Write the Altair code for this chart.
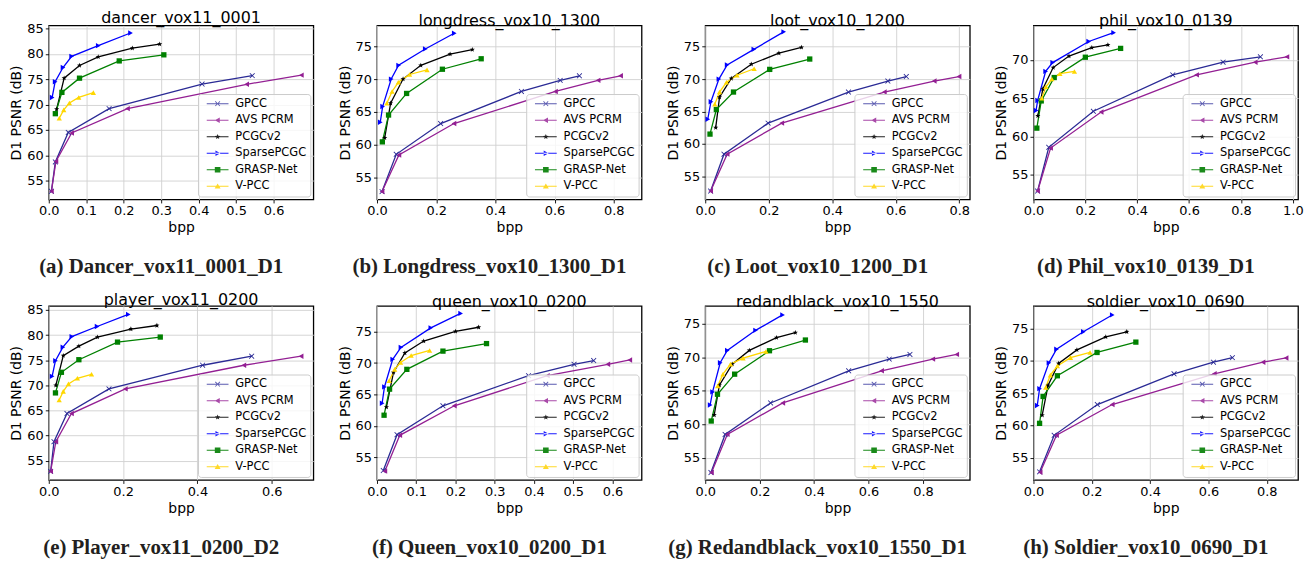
import math
import altair as alt
import pandas as pd

METHODS = ["GPCC", "AVS PCRM", "PCGCv2", "SparsePCGC", "GRASP-Net", "V-PCC"]
COLORS = ["#2a2a95", "#931f93", "#000000", "#0000ff", "#008000", "#ffd700"]
LEGEND_COLORS = ["#5a5ab0", "#a94aa9", "#222222", "#1a1aff", "#1a8a1a", "#ffd92a"]

# (bpp list, PSNR list) per method
DANCER = {
    "GPCC": ([0.007, 0.0175, 0.052, 0.161, 0.409, 0.543], [52.9, 58.7, 64.5, 69.2, 74.05, 75.7]),
    "AVS PCRM": ([0.007, 0.019, 0.061, 0.21, 0.528, 0.674], [52.9, 58.8, 64.4, 69.2, 74.0, 75.8]),
    "PCGCv2": ([0.021, 0.041, 0.082, 0.132, 0.223, 0.296], [69.1, 75.2, 77.7, 79.4, 81.1, 81.9]),
    "SparsePCGC": ([0.009, 0.017, 0.038, 0.061, 0.132, 0.218], [71.4, 74.5, 77.3, 79.5, 81.6, 84.1]),
    "GRASP-Net": ([0.0175, 0.035, 0.082, 0.188, 0.307], [68.2, 72.4, 75.2, 78.6, 79.8]),
    "V-PCC": ([0.028, 0.040, 0.055, 0.080, 0.119], [67.3, 68.95, 70.3, 71.4, 72.35]),
}
LONGDRESS = {
    "GPCC": ([0.017, 0.065, 0.215, 0.488, 0.619, 0.684], [52.8, 58.5, 63.2, 68.1, 69.8, 70.5]),
    "AVS PCRM": ([0.017, 0.074, 0.26, 0.603, 0.747, 0.823], [52.8, 58.4, 63.2, 68.1, 69.8, 70.5]),
    "PCGCv2": ([0.026, 0.046, 0.088, 0.148, 0.247, 0.322], [61.0, 66.3, 70.0, 72.1, 73.8, 74.5]),
    "SparsePCGC": ([0.011, 0.019, 0.048, 0.073, 0.163, 0.261], [63.4, 65.8, 70.0, 72.1, 74.6, 77.0]),
    "GRASP-Net": ([0.018, 0.039, 0.1, 0.221, 0.352], [60.4, 64.5, 67.8, 71.5, 73.1]),
    "V-PCC": ([0.033, 0.051, 0.072, 0.11, 0.169], [66.3, 68.1, 69.5, 70.7, 71.4]),
}
LOOT = {
    "GPCC": ([0.017, 0.059, 0.198, 0.451, 0.575, 0.633], [52.7, 58.4, 63.2, 68.0, 69.7, 70.4]),
    "AVS PCRM": ([0.017, 0.069, 0.241, 0.564, 0.721, 0.799], [52.7, 58.4, 63.2, 68.0, 69.7, 70.4]),
    "PCGCv2": ([0.033, 0.045, 0.082, 0.145, 0.232, 0.303], [62.5, 67.2, 70.1, 72.3, 74.0, 74.9]),
    "SparsePCGC": ([0.008, 0.018, 0.043, 0.069, 0.153, 0.247], [63.8, 66.5, 70.0, 72.2, 74.6, 77.3]),
    "GRASP-Net": ([0.015, 0.035, 0.089, 0.203, 0.329], [61.5, 65.3, 68.0, 71.5, 73.1]),
    "V-PCC": ([0.03, 0.045, 0.067, 0.1, 0.154], [66.1, 68.0, 69.5, 70.6, 71.6]),
}
PHIL = {
    "GPCC": ([0.016, 0.059, 0.231, 0.537, 0.731, 0.875], [52.9, 58.6, 63.3, 68.05, 69.7, 70.4]),
    "AVS PCRM": ([0.016, 0.066, 0.261, 0.629, 0.855, 0.977], [52.9, 58.5, 63.2, 68.05, 69.7, 70.4]),
    "PCGCv2": ([0.017, 0.036, 0.076, 0.137, 0.225, 0.287], [62.7, 66.2, 69.0, 70.5, 71.6, 71.95]),
    "SparsePCGC": ([0.01, 0.016, 0.047, 0.074, 0.213, 0.309], [63.4, 64.7, 68.5, 69.65, 72.4, 73.55]),
    "GRASP-Net": ([0.013, 0.03, 0.08, 0.2, 0.336], [61.1, 64.65, 67.7, 70.35, 71.5]),
    "V-PCC": ([0.032, 0.048, 0.071, 0.102, 0.158], [65.0, 66.5, 67.5, 68.2, 68.5]),
}
PLAYER = {
    "GPCC": ([0.005, 0.014, 0.049, 0.162, 0.414, 0.546], [52.9, 58.8, 64.4, 69.3, 74.0, 75.8]),
    "AVS PCRM": ([0.005, 0.019, 0.061, 0.206, 0.525, 0.679], [52.9, 58.8, 64.4, 69.3, 74.0, 75.8]),
    "PCGCv2": ([0.019, 0.039, 0.081, 0.131, 0.221, 0.291], [70.0, 75.9, 77.8, 79.6, 81.2, 81.9]),
    "SparsePCGC": ([0.009, 0.018, 0.038, 0.062, 0.13, 0.214], [71.8, 74.9, 77.6, 79.7, 81.7, 84.1]),
    "GRASP-Net": ([0.018, 0.034, 0.081, 0.185, 0.3], [68.5, 72.6, 75.1, 78.6, 79.6]),
    "V-PCC": ([0.028, 0.039, 0.053, 0.077, 0.115], [67.1, 68.8, 70.3, 71.4, 72.2]),
}
QUEEN = {
    "GPCC": ([0.016, 0.051, 0.168, 0.386, 0.502, 0.552], [52.9, 58.6, 63.2, 68.0, 69.8, 70.4]),
    "AVS PCRM": ([0.02, 0.058, 0.197, 0.434, 0.588, 0.644], [52.8, 58.5, 63.2, 68.0, 69.8, 70.5]),
    "PCGCv2": ([0.024, 0.042, 0.071, 0.119, 0.2, 0.259], [63.0, 68.5, 71.6, 73.5, 75.05, 75.7]),
    "SparsePCGC": ([0.013, 0.019, 0.04, 0.061, 0.137, 0.213], [63.6, 66.2, 70.6, 72.5, 75.6, 77.9]),
    "GRASP-Net": ([0.018, 0.032, 0.076, 0.168, 0.279], [61.7, 65.85, 69.0, 71.9, 73.1]),
    "V-PCC": ([0.031, 0.045, 0.06, 0.087, 0.134], [67.2, 69.0, 70.1, 71.2, 72.0]),
}
REDANDBLACK = {
    "GPCC": ([0.021, 0.073, 0.24, 0.527, 0.676, 0.752], [52.8, 58.5, 63.2, 68.0, 69.75, 70.45]),
    "AVS PCRM": ([0.023, 0.081, 0.285, 0.648, 0.836, 0.924], [52.8, 58.5, 63.2, 68.0, 69.75, 70.45]),
    "PCGCv2": ([0.033, 0.052, 0.099, 0.162, 0.262, 0.331], [61.4, 65.85, 69.0, 71.05, 72.95, 73.7]),
    "SparsePCGC": ([0.018, 0.027, 0.055, 0.081, 0.185, 0.284], [62.9, 64.85, 69.2, 71.05, 74.05, 76.35]),
    "GRASP-Net": ([0.022, 0.045, 0.108, 0.236, 0.368], [60.5, 64.5, 67.5, 71.0, 72.6]),
    "V-PCC": ([0.046, 0.065, 0.093, 0.139, 0.223], [65.75, 67.5, 69.0, 69.9, 70.9]),
}
SOLDIER = {
    "GPCC": ([0.021, 0.071, 0.219, 0.482, 0.617, 0.682], [52.85, 58.5, 63.25, 68.0, 69.8, 70.5]),
    "AVS PCRM": ([0.023, 0.079, 0.27, 0.62, 0.787, 0.866], [52.8, 58.5, 63.25, 68.0, 69.8, 70.45]),
    "PCGCv2": ([0.03, 0.05, 0.086, 0.149, 0.248, 0.32], [61.6, 66.2, 69.6, 71.7, 73.7, 74.5]),
    "SparsePCGC": ([0.013, 0.021, 0.053, 0.079, 0.171, 0.27], [63.1, 65.7, 69.7, 71.8, 74.5, 77.1]),
    "GRASP-Net": ([0.021, 0.033, 0.082, 0.218, 0.351], [60.35, 64.5, 67.7, 71.3, 72.9]),
    "V-PCC": ([0.042, 0.058, 0.082, 0.127, 0.194], [65.9, 67.8, 69.2, 70.5, 71.3]),
}

TITLES = ["dancer_vox11_0001", "longdress_vox10_1300", "loot_vox10_1200", "phil_vox10_0139",
          "player_vox11_0200", "queen_vox10_0200", "redandblack_vox10_1550", "soldier_vox10_0690"]
CAPTIONS = ["(a) Dancer_vox11_0001_D1", "(b) Longdress_vox10_1300_D1", "(c) Loot_vox10_1200_D1",
            "(d) Phil_vox10_0139_D1", "(e) Player_vox11_0200_D2", "(f) Queen_vox10_0200_D1",
            "(g) Redandblack_vox10_1550_D1", "(h) Soldier_vox10_0690_D1"]
DATASETS = [DANCER, LONGDRESS, LOOT, PHIL, PLAYER, QUEEN, REDANDBLACK, SOLDIER]
X_DOMAINS = [[0, 0.706], [0, 0.894], [0, 0.833], [0, 1.02], [0, 0.712], [0, 0.674], [0, 0.972], [0, 0.907]]
Y_DOMAINS = [[51.3, 85.6], [51.6, 78.2], [51.4, 78.3], [51.8, 74.5], [51.2, 85.8], [51.4, 79.1], [51.7, 77.7], [51.6, 78.5]]
X_TICKS = [[0.0, 0.1, 0.2, 0.3, 0.4, 0.5, 0.6], [0.0, 0.2, 0.4, 0.6, 0.8], [0.0, 0.2, 0.4, 0.6, 0.8],
           [0.0, 0.2, 0.4, 0.6, 0.8, 1.0], [0.0, 0.2, 0.4, 0.6], [0.0, 0.1, 0.2, 0.3, 0.4, 0.5, 0.6],
           [0.0, 0.2, 0.4, 0.6, 0.8], [0.0, 0.2, 0.4, 0.6, 0.8]]
Y_TICKS = [[55, 60, 65, 70, 75, 80, 85], [55, 60, 65, 70, 75], [55, 60, 65, 70, 75], [55, 60, 65, 70],
           [55, 60, 65, 70, 75, 80, 85], [55, 60, 65, 70, 75], [55, 60, 65, 70, 75], [55, 60, 65, 70, 75]]


# ---- marker shapes (style only) ----
def star_path(r_out=1.0, r_in=0.42, s=1.0):
    pts = []
    for k in range(10):
        r = (r_out if k % 2 == 0 else r_in) * s
        a = math.radians(-90 + 36 * k)
        pts.append(f"{r * math.cos(a):.3f},{r * math.sin(a):.3f}")
    return "M" + "L".join(pts) + "Z"


X_PATH = ("M-1,-0.78L-0.78,-1L0,-0.22L0.78,-1L1,-0.78L0.22,0L1,0.78L0.78,1"
          "L0,0.22L-0.78,1L-1,0.78L-0.22,0Z")
SHAPES = [X_PATH, "triangle-left", star_path(), "triangle-right", "square", "triangle-up"]
SIZES = [30, 28, 26, 28, 36, 30]

# legend symbols: a short line with the marker in its middle
LINE_BAR = "M-3.3,-0.13L3.3,-0.13L3.3,0.13L-3.3,0.13Z"
LEG_MARKERS = [
    "M-0.8,-0.62L-0.62,-0.8L0,-0.18L0.62,-0.8L0.8,-0.62L0.18,0L0.8,0.62L0.62,0.8L0,0.18L-0.62,0.8L-0.8,0.62L-0.18,0Z",
    "M-0.85,0L0.65,-0.85L0.65,0.85Z",
    star_path(s=0.85),
    "M0.85,0L-0.65,-0.85L-0.65,0.85Z",
    "M-0.85,-0.85L0.85,-0.85L0.85,0.85L-0.85,0.85Z",
    "M0,-0.85L0.9,0.7L-0.9,0.7Z",
]
LEG_SHAPES = [LINE_BAR + m for m in LEG_MARKERS]

W, H = 266, 175
FONT = "DejaVu Sans"


def panel(i):
    data = DATASETS[i]
    rows = []
    for m in METHODS:
        xs, ys = data[m]
        for k, (x, y) in enumerate(zip(xs, ys)):
            rows.append({"method": m, "bpp": x, "psnr": y, "k": k})
    df = pd.DataFrame(rows)
    x = alt.X("bpp:Q", scale=alt.Scale(domain=X_DOMAINS[i], nice=False, zero=False),
              axis=alt.Axis(title="bpp", values=X_TICKS[i], format=".1f"))
    y = alt.Y("psnr:Q", scale=alt.Scale(domain=Y_DOMAINS[i], nice=False, zero=False),
              axis=alt.Axis(title="D1 PSNR (dB)", values=Y_TICKS[i], format="d"))
    cscale = alt.Scale(domain=METHODS, range=COLORS)
    lines = alt.Chart(df).mark_line(strokeWidth=1.3).encode(
        x=x, y=y, color=alt.Color("method:N", scale=cscale, sort=METHODS, legend=None),
        order="k:Q")
    pts = alt.Chart(df).mark_point(filled=True, opacity=1).encode(
        x=x, y=y,
        color=alt.Color("method:N", scale=cscale, sort=METHODS, legend=None),
        shape=alt.Shape("method:N", scale=alt.Scale(domain=METHODS, range=SHAPES), sort=METHODS,
                        legend=None),
        size=alt.Size("method:N", scale=alt.Scale(domain=METHODS, range=SIZES), legend=None),
    )
    leg = alt.Legend(title=None, orient="bottom-right", fillColor="rgba(255,255,255,0.8)",
                     strokeColor="#cccccc", cornerRadius=3, padding=4, offset=3,
                     labelFont=FONT, labelFontSize=11.5, labelColor="#000000",
                     rowPadding=3.6, symbolSize=44, symbolOffset=10, labelOffset=12,
                     symbolStrokeWidth=0, symbolOpacity=1)
    legend_layer = alt.Chart(df).transform_filter("datum.k < 0").mark_point(
        filled=True, opacity=1).encode(
        x=x, y=y,
        color=alt.Color("method:N", scale=alt.Scale(domain=METHODS, range=LEGEND_COLORS),
                        sort=METHODS, legend=leg),
        shape=alt.Shape("method:N", scale=alt.Scale(domain=METHODS, range=LEG_SHAPES),
                        sort=METHODS, legend=leg),
    )
    cap = alt.Chart(pd.DataFrame({"t": [CAPTIONS[i]]})).mark_text(
        font="Liberation Serif", fontWeight="bold", fontSize=21, color="#231f20"
    ).encode(text="t:N", x=alt.value(W / 2 - 20), y=alt.value(H + 68))
    return alt.layer(lines, pts, legend_layer, cap).resolve_scale(
        color="independent", shape="independent"
    ).properties(
        width=W, height=H,
        title=alt.TitleParams(TITLES[i], fontSize=16, font=FONT, fontWeight="normal",
                              offset=-4, frame="group", anchor="middle", color="#000000"),
    )


chart = alt.concat(*[panel(i) for i in range(8)], columns=4,
                   spacing={"row": 107, "column": 64}, bounds="flush").resolve_legend(
    color="independent", shape="independent"
).properties(padding={"left": 1, "top": 0, "right": 0, "bottom": 0}).configure(
    font=FONT, background="white"
).configure_view(
    stroke="#000000", strokeWidth=1.3
).configure_axis(
    grid=True, gridColor="#d0d0d0", gridWidth=0.9, domain=False,
    tickColor="#000000", tickSize=3.5, tickWidth=0.9,
    labelFont=FONT, labelFontSize=13, labelColor="#000000", labelPadding=2,
    titleFont=FONT, titleFontSize=14, titleColor="#000000", titleFontWeight="normal",
).configure_axisY(titlePadding=3).configure_axisX(titlePadding=3, labelFlush=False)

chart.save("out.html", embed_options={"renderer": "svg", "actions": False})
